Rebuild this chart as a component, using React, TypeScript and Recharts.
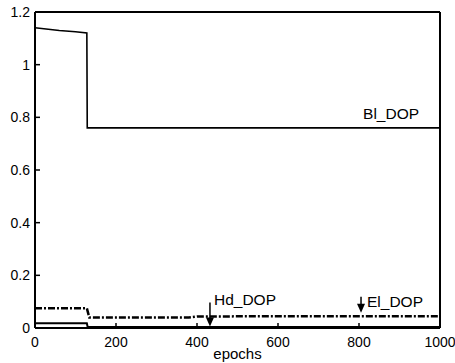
import { LineChart, Line, XAxis, YAxis, ReferenceDot } from 'recharts'

// epochs / DOP values
const blDop = [
  { x: 0, y: 1.14 },
  { x: 60, y: 1.13 },
  { x: 100, y: 1.125 },
  { x: 128, y: 1.12 },
  { x: 129, y: 0.76 },
  { x: 1000, y: 0.76 },
]
const elDop = [
  { x: 0, y: 0.075 },
  { x: 128, y: 0.075 },
  { x: 134, y: 0.04 },
  { x: 380, y: 0.04 },
  { x: 400, y: 0.044 },
  { x: 1000, y: 0.045 },
]
const hdDop = [
  { x: 0, y: 0.018 },
  { x: 128, y: 0.018 },
  { x: 130, y: 0.004 },
  { x: 1000, y: 0.004 },
]

const xTicks = [0, 200, 400, 600, 800, 1000]
const yTicks = [0, 0.2, 0.4, 0.6, 0.8, 1, 1.2]

// arrow annotations: label, where the arrow tip points
const arrows = [
  { name: 'Hd_DOP', x: 432, y: 0.006, len: 24, tx: 4, ty: -27 },
  { name: 'El_DOP', x: 805, y: 0.058, len: 16, tx: 6, ty: -11 },
]
const blLabel = { name: 'Bl_DOP', x: 810, y: 0.76 }

const font = '"Liberation Sans", Arial, sans-serif'
const tickStyle = { fill: '#000', fontSize: 14, fontFamily: font }

const arrowShape = (a: any) => (p: any) => {
  const { cx, cy } = p
  return (
    <g>
      <line x1={cx} y1={cy - a.len} x2={cx} y2={cy - 6} stroke="#000" strokeWidth={1.5} />
      <polygon points={`${cx - 4},${cy - 9} ${cx + 4},${cy - 9} ${cx},${cy}`} fill="#000" />
      <text x={cx + a.tx} y={cy + a.ty} dominantBaseline="central" fontSize={15.5} fontFamily={font} fill="#000">
        {a.name}
      </text>
    </g>
  )
}

const textShape = (name: string) => (p: any) => (
  <text x={p.cx} y={p.cy - 14} dominantBaseline="central" fontSize={15.5} fontFamily={font} fill="#000">
    {name}
  </text>
)

export default function App() {
  return (
    <div style={{ position: 'absolute', left: 0, top: 0, background: '#fff' }}>
      <LineChart width={455} height={363} margin={{ top: 11, right: 14, bottom: 0, left: 0 }}>
        <XAxis
          type="number" dataKey="x" domain={[0, 1000]} ticks={xTicks} height={35}
          tick={tickStyle} tickSize={-5} tickMargin={14}
          axisLine={{ stroke: '#000', strokeWidth: 2 }} tickLine={{ stroke: '#000', strokeWidth: 1.5 }}
          label={{ value: 'epochs', position: 'insideBottom', offset: 4, fill: '#000', fontSize: 15, fontFamily: font }}
        />
        <XAxis
          xAxisId="t" orientation="top" type="number" dataKey="x" domain={[0, 1000]} ticks={xTicks} height={1}
          tickFormatter={() => ''} tickSize={-5} tickMargin={0}
          axisLine={{ stroke: '#000', strokeWidth: 2 }} tickLine={{ stroke: '#000', strokeWidth: 1.5 }}
        />
        <YAxis
          type="number" domain={[0, 1.2]} ticks={yTicks} width={35}
          tick={tickStyle} tickSize={-5} tickMargin={10}
          axisLine={{ stroke: '#000', strokeWidth: 2 }} tickLine={{ stroke: '#000', strokeWidth: 1.5 }}
        />
        <YAxis
          yAxisId="r" orientation="right" type="number" domain={[0, 1.2]} ticks={yTicks} width={1}
          tickFormatter={() => ''} tickSize={-5} tickMargin={0}
          axisLine={{ stroke: '#000', strokeWidth: 2 }} tickLine={{ stroke: '#000', strokeWidth: 1.5 }}
        />
        <Line data={blDop} dataKey="y" type="linear" stroke="#000" strokeWidth={1.6} dot={false} isAnimationActive={false} />
        <Line data={elDop} dataKey="y" type="linear" stroke="#000" strokeWidth={2.5} strokeDasharray="7 2 2 2" dot={false} isAnimationActive={false} />
        <Line data={hdDop} dataKey="y" type="linear" stroke="#000" strokeWidth={2} dot={false} isAnimationActive={false} />
        {arrows.map((a) => (
          <ReferenceDot key={a.name} x={a.x} y={a.y} shape={arrowShape(a)} ifOverflow="visible" />
        ))}
        <ReferenceDot x={blLabel.x} y={blLabel.y} shape={textShape(blLabel.name)} ifOverflow="visible" />
      </LineChart>
    </div>
  )
}
